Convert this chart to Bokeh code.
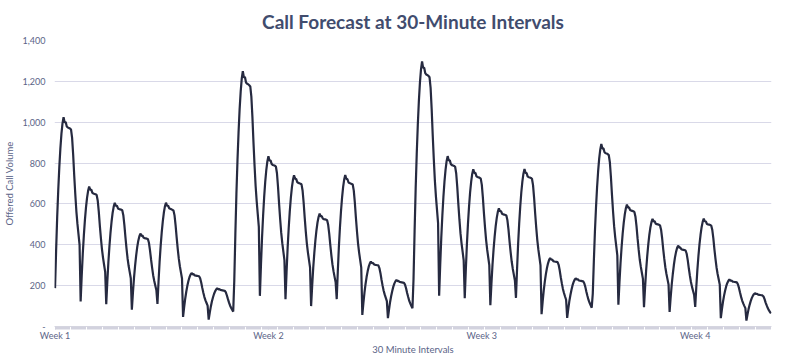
from bokeh.plotting import figure
from bokeh.models import FixedTicker, NumeralTickFormatter, ColumnDataSource, Range1d
from bokeh.embed import file_html
from bokeh.resources import INLINE

# Offered call volume per 30-minute interval, 24 intervals per day, 7 days per week, 4 weeks
week1 = [
    188, 369, 533, 666, 779, 871, 943, 994, 1025, 999, 1001, 979, 974, 972, 969, 964, 923, 841, 738, 646, 564, 502, 451, 400,
    123, 247, 356, 445, 521, 582, 630, 664, 685, 668, 670, 654, 651, 649, 647, 644, 617, 562, 493, 432, 377, 336, 301, 267,
    109, 218, 315, 393, 460, 514, 557, 587, 605, 590, 592, 578, 575, 573, 572, 569, 545, 496, 436, 381, 333, 296, 266, 236,
    82, 164, 237, 296, 346, 387, 419, 441, 455, 444, 445, 435, 432, 431, 430, 428, 410, 373, 328, 287, 250, 223, 200, 177,
    110, 219, 316, 395, 461, 515, 558, 588, 606, 591, 591, 579, 576, 574, 571, 568, 544, 495, 435, 380, 332, 295, 265, 235,
    47, 94, 136, 170, 199, 223, 241, 254, 262, 255, 256, 250, 249, 248, 247, 246, 236, 215, 189, 165, 144, 128, 115, 102,
    34, 67, 97, 122, 142, 159, 172, 181, 187, 182, 183, 179, 178, 177, 176, 175, 168, 153, 135, 118, 103, 92, 82, 73,
]
week2 = [
    225, 450, 650, 813, 950, 1063, 1150, 1213, 1250, 1219, 1221, 1194, 1188, 1186, 1181, 1175, 1125, 1025, 900, 788, 688, 613, 550, 488,
    150, 300, 433, 541, 633, 708, 766, 808, 833, 812, 814, 796, 791, 789, 787, 783, 750, 683, 600, 525, 458, 408, 367, 325,
    133, 266, 385, 481, 562, 629, 681, 718, 740, 722, 723, 707, 703, 701, 699, 696, 666, 607, 533, 466, 407, 363, 326, 289,
    100, 199, 288, 359, 420, 470, 509, 536, 553, 539, 540, 528, 525, 524, 523, 520, 498, 453, 398, 348, 304, 271, 243, 216,
    134, 267, 386, 482, 563, 630, 682, 719, 741, 723, 722, 706, 702, 700, 698, 695, 665, 606, 532, 465, 406, 362, 325, 288,
    57, 114, 165, 207, 242, 270, 293, 308, 318, 310, 311, 304, 302, 301, 300, 299, 286, 261, 229, 200, 175, 156, 140, 124,
    41, 82, 119, 148, 173, 194, 210, 221, 228, 222, 223, 218, 217, 216, 215, 214, 205, 187, 164, 144, 125, 112, 100, 89,
]
week3 = [
    234, 467, 675, 844, 986, 1103, 1194, 1259, 1298, 1266, 1267, 1240, 1233, 1231, 1227, 1220, 1168, 1064, 935, 818, 714, 636, 571, 506,
    151, 301, 434, 542, 634, 709, 767, 809, 834, 813, 813, 795, 790, 788, 786, 782, 749, 682, 599, 524, 457, 407, 366, 324,
    139, 277, 400, 501, 585, 655, 708, 747, 770, 751, 752, 735, 732, 730, 728, 724, 693, 631, 554, 485, 424, 377, 339, 300,
    104, 208, 301, 376, 439, 491, 532, 561, 578, 564, 565, 552, 549, 548, 546, 543, 520, 474, 416, 364, 318, 283, 254, 225,
    140, 278, 401, 502, 586, 656, 709, 748, 771, 752, 751, 734, 731, 729, 727, 723, 692, 630, 553, 484, 423, 376, 338, 299,
    60, 121, 174, 218, 255, 285, 308, 325, 335, 327, 328, 320, 318, 317, 316, 315, 302, 275, 241, 211, 184, 164, 147, 131,
    42, 85, 123, 153, 179, 201, 217, 229, 236, 230, 231, 225, 224, 223, 222, 221, 212, 194, 170, 149, 130, 116, 104, 92,
]
week4 = [
    161, 321, 464, 580, 679, 759, 822, 866, 893, 871, 872, 853, 848, 847, 844, 839, 804, 732, 643, 563, 491, 438, 393, 348,
    107, 215, 310, 388, 454, 507, 549, 579, 597, 582, 583, 570, 567, 566, 564, 561, 537, 490, 430, 376, 328, 293, 263, 233,
    95, 190, 274, 343, 401, 448, 485, 511, 527, 514, 515, 503, 501, 500, 498, 495, 474, 432, 379, 332, 290, 258, 232, 206,
    71, 143, 206, 257, 301, 337, 364, 384, 396, 386, 387, 378, 376, 375, 374, 372, 356, 325, 285, 249, 218, 194, 174, 154,
    96, 191, 275, 344, 402, 449, 486, 512, 528, 515, 514, 502, 500, 499, 497, 494, 473, 431, 378, 331, 289, 257, 231, 205,
    41, 83, 120, 150, 175, 196, 212, 223, 230, 224, 225, 220, 219, 218, 217, 216, 207, 189, 166, 145, 127, 113, 101, 90,
    29, 59, 85, 106, 124, 139, 150, 158, 163, 159, 160, 156, 155, 154, 153, 152, 147, 134, 117, 103, 90, 80, 72, 64,
]
week_labels = ["Week 1", "Week 2", "Week 3", "Week 4"]
week_label_positions = [0, 200, 400, 600]
y_ticks = [0, 200, 400, 600, 800, 1000, 1200, 1400]

volume = week1 + week2 + week3 + week4
interval = list(range(len(volume)))
source = ColumnDataSource(data=dict(x=interval, y=volume))

FONT = "Lato"
LABEL_COLOR = "#5B6487"

p = figure(
    frame_width=717, frame_height=286,
    output_backend="svg", toolbar_location=None,
    x_range=Range1d(-0.5, len(volume) - 0.5),
    y_range=Range1d(0, 1400),
    min_border_left=46, min_border_right=5, min_border_top=39, min_border_bottom=22,
    title="Call Forecast at 30-Minute Intervals",
)
p.outline_line_color = None
p.background_fill_color = "white"
p.border_fill_color = "white"

p.title.align = "center"
p.title.text_font = FONT
p.title.text_font_size = "19px"
p.title.text_font_style = "bold"
p.title.text_color = "#414C6E"
p.title.standoff = 15

p.line("x", "y", source=source, line_color="#262A40", line_width=2.2)

# x axis
p.xaxis.ticker = FixedTicker(ticks=week_label_positions, minor_ticks=interval)
p.xaxis.major_label_overrides = {pos: lab for pos, lab in zip(week_label_positions, week_labels)}
p.xaxis.axis_line_color = "#D8D8E2"
p.xaxis.major_tick_line_color = "#D2D2DE"
p.xaxis.minor_tick_line_color = "#D2D2DE"
p.xaxis.major_tick_in = 0
p.xaxis.major_tick_out = 3
p.xaxis.minor_tick_in = 0
p.xaxis.minor_tick_out = 3
p.xaxis.major_label_standoff = 0
p.xaxis.major_label_text_font = FONT
p.xaxis.major_label_text_font_size = "9px"
p.xaxis.major_label_text_color = LABEL_COLOR
p.xaxis.axis_label = "30 Minute Intervals"
p.xaxis.axis_label_text_font = FONT
p.xaxis.axis_label_text_font_size = "9.5px"
p.xaxis.axis_label_text_font_style = "normal"
p.xaxis.axis_label_text_color = LABEL_COLOR
p.xaxis.axis_label_standoff = 0
p.xgrid.grid_line_color = None

# y axis
p.yaxis.ticker = FixedTicker(ticks=y_ticks)
p.yaxis.formatter = NumeralTickFormatter(format="0,0")
p.yaxis.major_label_overrides = {0: "-"}
p.yaxis.axis_line_color = None
p.yaxis.major_tick_line_color = None
p.yaxis.minor_tick_line_color = None
p.yaxis.major_tick_out = 0
p.yaxis.major_label_standoff = 9
p.yaxis.major_label_text_font = FONT
p.yaxis.major_label_text_font_size = "9px"
p.yaxis.major_label_text_color = LABEL_COLOR
p.yaxis.axis_label = "Offered Call Volume"
p.yaxis.axis_label_text_font = FONT
p.yaxis.axis_label_text_font_size = "9.5px"
p.yaxis.axis_label_text_font_style = "normal"
p.yaxis.axis_label_text_color = LABEL_COLOR
p.yaxis.axis_label_standoff = 5
p.ygrid.grid_line_color = "#D9D9E8"
p.ygrid.grid_line_width = 1

open("out.html", "w").write(file_html(p, INLINE))
